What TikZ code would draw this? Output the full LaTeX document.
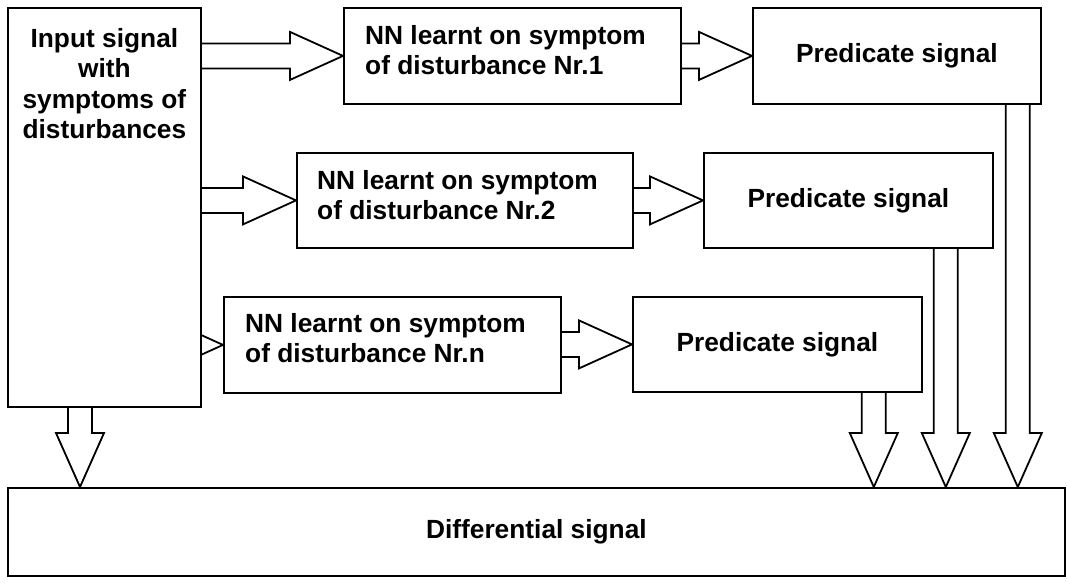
\documentclass[tikz,border=0pt]{standalone}
\usepackage{fontspec}
\setmainfont{Liberation Sans}
\usetikzlibrary{calc,backgrounds}
\newcommand\harrowblk[2]{%
  \draw[blk] let \p1=(#1), \p2=(#2) in
    (\x1,\y2+12.5pt) -- (\x2-53pt,\y2+12.5pt) -- (\x2-53pt,\y2+24pt) -- (\x2,\y2)
    -- (\x2-53pt,\y2-24pt) -- (\x2-53pt,\y2-12.5pt) -- (\x1,\y2-12.5pt);}
\newcommand\varrowblk[2]{%
  \draw[blk] let \p1=(#1), \p2=(#2) in
    (\x1-12pt,\y1) -- (\x1-12pt,\y2+54pt) -- (\x1-24pt,\y2+54pt) -- (\x1,\y2)
    -- (\x1+24pt,\y2+54pt) -- (\x1+12pt,\y2+54pt) -- (\x1+12pt,\y1);}
\begin{document}
\begin{tikzpicture}[x=1pt,y=-1pt,
  box/.style={draw,fill=white,line width=1.8pt,rectangle,inner sep=0pt,anchor=north west},
  lbl/.style={inner sep=0pt,font=\fontsize{26.3}{30.5}\selectfont\bfseries},
  blk/.style={draw,line width=1.8pt,line join=miter}]
\useasboundingbox (0,0) rectangle (1067,582);

% boxes
\node[box,minimum width=193pt,minimum height=399pt] (in) at (7,7) {};
\node[box,minimum width=337pt,minimum height=96pt] (nn1) at (343,7) {};
\node[box,minimum width=288pt,minimum height=96pt] (p1) at (752,7) {};
\node[box,minimum width=336pt,minimum height=95pt] (nn2) at (296,152) {};
\node[box,minimum width=289pt,minimum height=95pt] (p2) at (703,152) {};
\node[box,minimum width=337pt,minimum height=96pt] (nnn) at (223,296) {};
\node[box,minimum width=289pt,minimum height=95pt] (pn) at (632,296) {};
\node[box,minimum width=1057pt,minimum height=88pt] (diff) at (7,487) {};

% texts
\node[lbl,align=center,anchor=north] (tin) at ($(in.north)+(0,21)$)
  {Input signal\\with\\symptoms of\\disturbances};
\node[lbl,align=left,anchor=north west] (tnn1) at ($(nn1.north west)+(22,18)$)
  {NN learnt on symptom\\of disturbance Nr.1};
\node[lbl,align=left,anchor=north west] (tnn2) at ($(nn2.north west)+(21,18)$)
  {NN learnt on symptom\\of disturbance Nr.2};
\node[lbl,align=left,anchor=north west] (tnnn) at ($(nnn.north west)+(22,17)$)
  {NN learnt on symptom\\of disturbance Nr.n};
\node[lbl] (tp1) at (p1.center) {Predicate signal};
\node[lbl] (tp2) at (p2.center) {Predicate signal};
\node[lbl] (tpn) at (pn.center) {Predicate signal};
\node[lbl] (tdiff) at (diff.center) {Differential signal};

% start points of the downward arrows
\coordinate (d0) at ($(in.south west)+(73,0)$);
\coordinate (d1) at ($(p1.south east)+(-24,0)$);
\coordinate (d2) at ($(p2.south east)+(-48,0)$);
\coordinate (dn) at ($(pn.south east)+(-49,0)$);

\begin{pgfonlayer}{background}
\harrowblk{in.east}{nn1.west}
\harrowblk{in.east}{nn2.west}
\harrowblk{in.east}{nnn.west}
\harrowblk{nn1.east}{p1.west}
\harrowblk{nn2.east}{p2.west}
\harrowblk{nnn.east}{pn.west}
\varrowblk{d0}{d0 |- diff.north}
\varrowblk{d1}{d1 |- diff.north}
\varrowblk{d2}{d2 |- diff.north}
\varrowblk{dn}{dn |- diff.north}
\end{pgfonlayer}
\end{tikzpicture}
\end{document}
